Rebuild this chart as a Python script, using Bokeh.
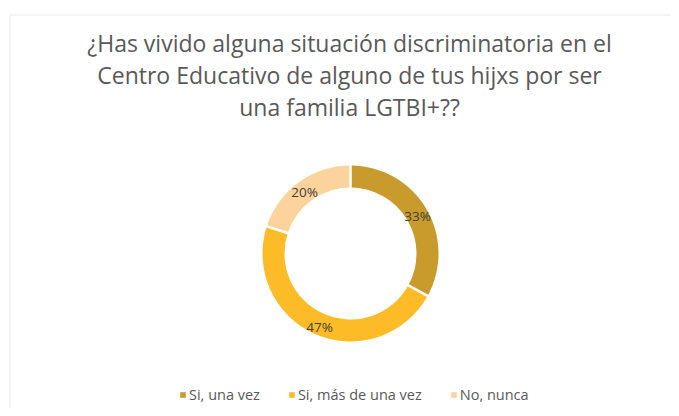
import math
from bokeh.plotting import figure
from bokeh.models import Range1d, Label, Legend, LegendItem, BoxAnnotation, ColumnDataSource
from bokeh.core.properties import value
from bokeh.embed import file_html
from bokeh.resources import INLINE

categories = ["Si, una vez", "Si, más de una vez", "No, nunca"]
percentages = [33, 47, 20]
colors = ["#C99A2C", "#FDBC27", "#FDD39D"]
title_lines = [
    "¿Has vivido alguna situación discriminatoria en el",
    "Centro Educativo de alguno de tus hijxs por ser",
    "una familia LGTBI+??",
]

W, H = 671, 408
FONT = "Open Sans"
p = figure(width=W, height=H, output_backend="svg", toolbar_location=None,
           x_range=Range1d(0, W), y_range=Range1d(0, H), min_border=0)
p.axis.visible = False
p.grid.visible = False
p.outline_line_color = None
p.background_fill_color = "white"

# chart border
p.add_layout(BoxAnnotation(left=9.5, right=W + 20, top=H - 14.5, bottom=-20,
                           fill_alpha=0, line_color="#D9D9D9", line_width=2))

cx, cy = 350, 155
r_out, r_in = 88, 66

total = sum(percentages)
starts, ends, lx, ly, texts = [], [], [], [], []
cum = 0
for v in percentages:
    a0 = math.pi / 2 - 2 * math.pi * cum / total
    a1 = math.pi / 2 - 2 * math.pi * (cum + v) / total
    starts.append(a0)
    ends.append(a1)
    mid = (a0 + a1) / 2
    rm = (r_out + r_in) / 2 + 1
    lx.append(cx + rm * math.cos(mid))
    ly.append(cy + rm * math.sin(mid) - 2)
    texts.append(f"{v}%")
    cum += v

src = ColumnDataSource(dict(x=[cx] * 3, y=[cy] * 3, start=starts, end=ends,
                            color=colors, cat=categories))
wedges = p.annular_wedge(x="x", y="y", inner_radius=r_in, outer_radius=r_out,
                         start_angle="start", end_angle="end", direction="clock",
                         fill_color="color", line_color=None, source=src)

# white separators between slices
sx0 = [cx + (r_in - 2) * math.cos(a) for a in starts]
sy0 = [cy + (r_in - 2) * math.sin(a) for a in starts]
sx1 = [cx + (r_out + 2) * math.cos(a) for a in starts]
sy1 = [cy + (r_out + 2) * math.sin(a) for a in starts]
p.segment(x0=sx0, y0=sy0, x1=sx1, y1=sy1, line_color="white", line_width=2.5)

p.text(x=lx, y=ly, text=texts, text_align="center", text_baseline="middle",
       text_font=value(FONT), text_font_size="13.5px", text_color="#404040")

for i, line in enumerate(title_lines):
    p.add_layout(Label(x=349, y=H - 42.5 - i * 32, text=line, text_align="center",
                       text_baseline="middle", text_font=FONT, text_font_size="23px",
                       text_color="#595959"))

legend = Legend(items=[LegendItem(label=c, renderers=[wedges], index=i)
                       for i, c in enumerate(categories)],
                orientation="horizontal", location=(179, 4),
                glyph_width=7, glyph_height=7, label_height=14,
                label_text_font=FONT, label_text_font_size="14.5px",
                label_text_color="#595959", label_standoff=3, spacing=28,
                padding=0, margin=0, border_line_color=None,
                background_fill_alpha=0)
p.add_layout(legend)

open("out.html", "w").write(file_html(p, INLINE))
